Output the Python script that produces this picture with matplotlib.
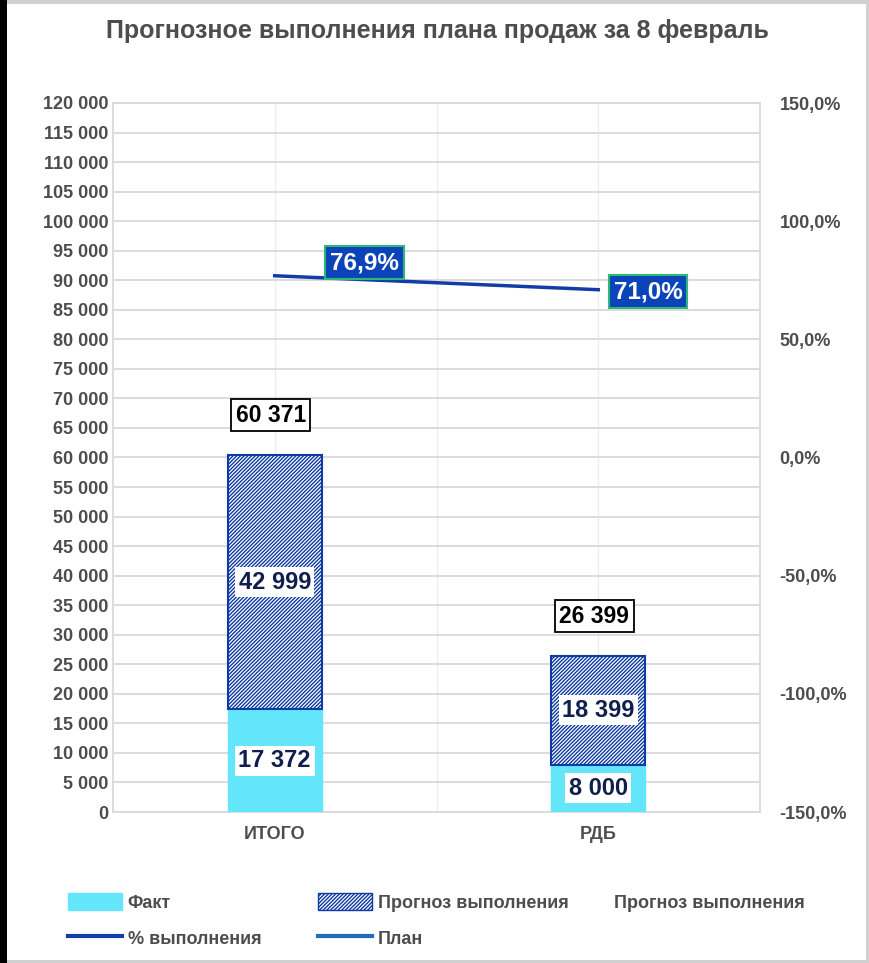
import matplotlib.pyplot as plt
from matplotlib.patches import Patch, Rectangle
from matplotlib.lines import Line2D
from matplotlib.ticker import FuncFormatter, MultipleLocator

plt.rcParams['font.family'] = ['Liberation Sans', 'DejaVu Sans']
plt.rcParams['font.weight'] = 'bold'
plt.rcParams['hatch.linewidth'] = 1.0

categories = ['ИТОГО', 'РДБ']
fact = [17372, 8000]
forecast = [42999, 18399]
total = [60371, 26399]
pct = [0.769, 0.710]
# label offsets of the % boxes, pixels
pct_offsets = [(90, 13), (50, -2)]

gray = '#4D4D4D'
cyan = '#63E6FA'
navy = '#0E3BA3'
line_blue = '#123DA8'
plan_blue = '#1F6DB5'
hatch = '/////////'

fig = plt.figure(figsize=(8.69, 9.63), dpi=100)
ax = fig.add_axes([113 / 869, 1 - 812 / 963, 647 / 869, 709 / 963])

x = list(range(len(categories)))
w = 0.29
ax.bar(x, fact, w, color=cyan, edgecolor=cyan, zorder=3)
ax.bar(x, forecast, w, bottom=fact, facecolor='white', edgecolor=navy,
       hatch=hatch, linewidth=1.5, zorder=3)

for i in x:
    ax.text(i, fact[i] / 2, f'{fact[i]:,}'.replace(',', ' '), ha='center', va='center',
            fontsize=17, color='#0F1E4D', zorder=5,
            bbox=dict(boxstyle='square,pad=0.15', fc='white', ec='none'))
    ax.text(i, fact[i] + forecast[i] / 2, f'{forecast[i]:,}'.replace(',', ' '),
            ha='center', va='center', fontsize=17, color='#0F1E4D', zorder=5,
            bbox=dict(boxstyle='square,pad=0.15', fc='white', ec='none'))
    ax.annotate(f'{total[i]:,}'.replace(',', ' '), (i, total[i]), xytext=(-4, 40),
                textcoords='offset pixels', ha='center', va='center', fontsize=16.5,
                color='black', zorder=5,
                bbox=dict(boxstyle='square,pad=0.2', fc='white', ec='black', lw=1.3))

ax.set_xlim(-0.5, 1.5)
ax.set_ylim(0, 120000)
ax.yaxis.set_major_locator(MultipleLocator(5000))
ax.yaxis.set_major_formatter(FuncFormatter(lambda v, p: f'{int(v):,}'.replace(',', ' ')))
ax.set_xticks(x)
ax.set_xticklabels(categories)
ax.set_xticks([0.5], minor=True)
ax.grid(axis='y', color='#D9D9D9', lw=1.3, zorder=0)
ax.grid(axis='x', which='both', color='#EDEDED', lw=1, zorder=0)
ax.tick_params(axis='both', which='both', length=0, labelsize=13, labelcolor=gray)
ax.tick_params(axis='x', pad=10)
for s in ax.spines.values():
    s.set_color('#D9D9D9')
    s.set_linewidth(1.3)

ax2 = ax.twinx()
ax2.plot(x, pct, color=line_blue, lw=2.5, zorder=4)
ax2.set_ylim(-1.5, 1.5)
ax2.yaxis.set_major_locator(MultipleLocator(0.5))
ax2.yaxis.set_major_formatter(FuncFormatter(lambda v, p: f'{v * 100:.1f}%'.replace('.', ',')))
ax2.tick_params(axis='y', length=0, labelsize=13, labelcolor=gray, pad=14)
for s in ax2.spines.values():
    s.set_visible(False)
for i in x:
    ax2.annotate(f'{pct[i] * 100:.1f}%'.replace('.', ','), (i, pct[i]),
                 xytext=pct_offsets[i], textcoords='offset pixels', ha='center',
                 va='center', fontsize=17.5, color='white', zorder=6,
                 bbox=dict(boxstyle='square,pad=0.2', fc='#0B44B8', ec='#2DB87A', lw=1.5))

fig.suptitle('Прогнозное выполнения плана продаж за 8 февраль', x=437 / 869, y=1 - 31 / 963,
             va='center', fontsize=18, fontweight='bold', color=gray)

leg_kw = dict(frameon=False, fontsize=13, labelcolor=gray, handlelength=3.0,
              handleheight=1.1, handletextpad=0.3, labelspacing=0.95, loc='upper left',
              borderaxespad=0, borderpad=0)
fig.legend(handles=[Patch(fc=cyan, ec=cyan, label='Факт'),
                    Line2D([], [], color=line_blue, lw=3, label='% выполнения')],
           bbox_to_anchor=(68 / 869, 1 - 893 / 963), **leg_kw)
fig.legend(handles=[Patch(fc='white', ec=navy, hatch=hatch, label='Прогноз выполнения'),
                    Line2D([], [], color=plan_blue, lw=3, label='План')],
           bbox_to_anchor=(318 / 869, 1 - 893 / 963), **leg_kw)
fig.legend(handles=[Patch(fc='none', ec='none', label='Прогноз выполнения')],
           bbox_to_anchor=(554 / 869, 1 - 893 / 963), **leg_kw)

fig.patches.append(Rectangle((0, 0), 1, 1, transform=fig.transFigure, fill=False,
                             ec='#D0D0D0', lw=5))
fig.patches.append(Rectangle((0, 0), 7 / 869, 1, transform=fig.transFigure,
                             fc='black', ec='none'))

fig.savefig('out.png', dpi=100, facecolor='white')
